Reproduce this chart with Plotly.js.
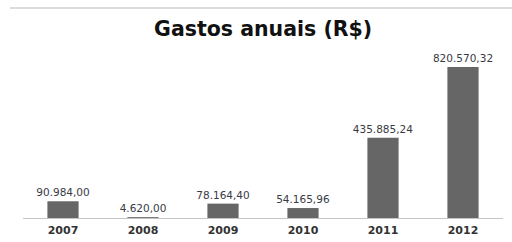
<!DOCTYPE html>
<html><head><meta charset="utf-8">
<script src="https://cdn.plot.ly/plotly-3.0.1.min.js"></script>
<style>html,body{margin:0;padding:0;background:#fff}#c{width:512px;height:242px}</style>
</head><body><div id="c"></div>
<script>
const years = ['2007','2008','2009','2010','2011','2012'];
const gastos = [90984.00, 4620.00, 78164.40, 54165.96, 435885.24, 820570.32];
const labels = ['90.984,00','4.620,00','78.164,40','54.165,96','435.885,24','820.570,32'];

Plotly.newPlot('c', [{
  type: 'bar', x: years, y: gastos, text: labels,
  textposition: 'outside', cliponaxis: false, width: 0.39, constraintext: 'none',
  marker: {color: '#666666'},
  textfont: {family: 'DejaVu Sans', size: 10.5, color: '#3a3a44'},
  hoverinfo: 'none'
}], {
  width: 512, height: 242,
  margin: {l: 23, r: 9, t: 58, b: 24},
  paper_bgcolor: '#fff', plot_bgcolor: '#fff',
  showlegend: false,
  title: {text: '<b>Gastos anuais (R$)</b>', x: 0.514, xanchor: 'center', y: 0.88, yanchor: 'middle', yref: 'container',
          font: {family: 'DejaVu Sans', size: 20.5, color: '#111'}},
  xaxis: {type: 'category', showline: true, linecolor: '#c4c4c4', linewidth: 1, ticks: '', showgrid: false,
          tickfont: {family: 'DejaVu Sans', size: 11, color: '#333', weight: 'bold'}, ticklabelstandoff: 2},
  yaxis: {range: [0, 870000], visible: false, showgrid: false, zeroline: false},
  shapes: [{type: 'line', xref: 'paper', yref: 'paper', x0: -0.027, x1: 1.02, y0: 1.3125, y1: 1.3125,
            line: {color: '#dcdcdc', width: 2}}]
}, {displayModeBar: false, staticPlot: true});
</script></body></html>
